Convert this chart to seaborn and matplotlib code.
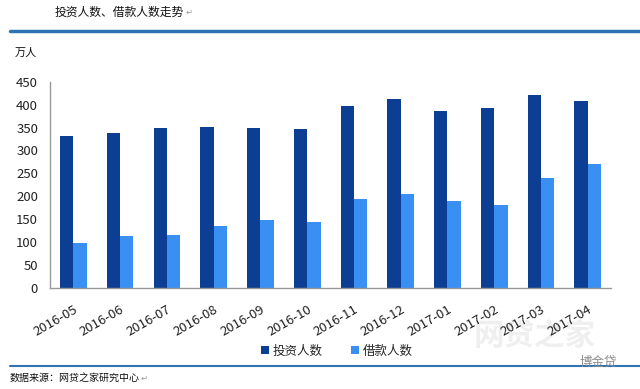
import pandas as pd
import seaborn as sns
from matplotlib import pyplot as plt
from matplotlib.lines import Line2D


# data (万人)
months = ["2016-05", "2016-06", "2016-07", "2016-08", "2016-09", "2016-10",
          "2016-11", "2016-12", "2017-01", "2017-02", "2017-03", "2017-04"]
investors = [331, 339, 350, 352, 348, 346, 398, 413, 387, 392, 422, 407]
borrowers = [97, 114, 116, 136, 148, 144, 194, 205, 190, 181, 240, 270]
series_names = ["投资人数", "借款人数"]
y_ticks = [0, 50, 100, 150, 200, 250, 300, 350, 400, 450]

colors = ["#0c3e94", "#3a90f2"]


df = pd.DataFrame({
    "month": months * 2,
    "count": investors + borrowers,
    "series": [series_names[0]] * len(months) + [series_names[1]] * len(months),
})

sns.set_theme(style="white")
plt.rcParams['font.family'] = ['Noto Sans CJK SC', 'DejaVu Sans']

fig = plt.figure(figsize=(6.4, 3.89), dpi=100)
ax = fig.add_axes([0.078, 0.26, 0.877, 0.53])

sns.barplot(data=df, x="month", y="count", hue="series", palette=colors,
            width=0.57, gap=0, saturation=1, linewidth=0, legend=False, ax=ax)

ax.set_xlim(-0.5, len(months) - 0.5)
ax.set_ylim(0, 450)
ax.set_yticks(y_ticks)
ax.set_xlabel("")
ax.set_ylabel("")

for side in ["top", "right"]:
    ax.spines[side].set_visible(False)
for side in ["left", "bottom"]:
    ax.spines[side].set_color("#9a9a9a")
    ax.spines[side].set_linewidth(1.0)

ax.tick_params(axis="y", length=3.5, width=1, color="#9a9a9a", direction="out",
               labelsize=9.5, labelcolor="#222222", pad=5)
ax.tick_params(axis="x", which="major", length=0, labelsize=9.5,
               labelcolor="#222222", pad=11)
ax.set_xticks([i - 0.5 for i in range(len(months) + 1)], minor=True)
ax.tick_params(axis="x", which="minor", length=4, color="#9a9a9a", width=1,
               direction="out")

for label in ax.get_xticklabels():
    label.set_rotation(30)
    label.set_ha("right")
    label.set_rotation_mode("anchor")

# faint watermark (behind everything)
fig.text(535 / 640, 1 - 336 / 389, "网贷之家", fontsize=22, color="#efefef",
         ha="center", va="center", fontweight="bold", zorder=-1)

# legend
handles = [Line2D([], [], marker="s", linestyle="", markersize=5.5,
                  markerfacecolor=c, markeredgewidth=0) for c in colors]
fig.legend(handles, series_names, loc="center", bbox_to_anchor=(0.526, 1 - 351 / 389),
           ncol=2, frameon=False, fontsize=9, handlelength=0.8,
           handletextpad=0.2, columnspacing=2.2)

# header / footer decorations
fig.add_artist(Line2D([10 / 640, 1], [1 - 30.5 / 389] * 2,
                      transform=fig.transFigure, color="#2e74b5", lw=2.5))
fig.add_artist(Line2D([10 / 640, 1], [1 - 366 / 389] * 2,
                      transform=fig.transFigure, color="#2e74b5", lw=1.5))

fig.text(55 / 640, 1 - 12 / 389, "投资人数、借款人数走势", fontsize=8.5,
         color="#111111", va="center")
fig.text(186 / 640, 1 - 12 / 389, "↵", fontsize=6, color="#999999", va="center")
fig.text(15 / 640, 1 - 53 / 389, "万人", fontsize=8, color="#111111", va="center")
fig.text(10 / 640, 1 - 378 / 389, "数据来源：网贷之家研究中心", fontsize=7.2,
         color="#111111", va="center")
fig.text(141 / 640, 1 - 378 / 389, "↵", fontsize=6, color="#999999", va="center")

fig.text(598 / 640, 1 - 362 / 389, "博金贷", fontsize=9, color="#8c8c8c",
         ha="center", va="center")

fig.savefig("out.png", dpi=100)
